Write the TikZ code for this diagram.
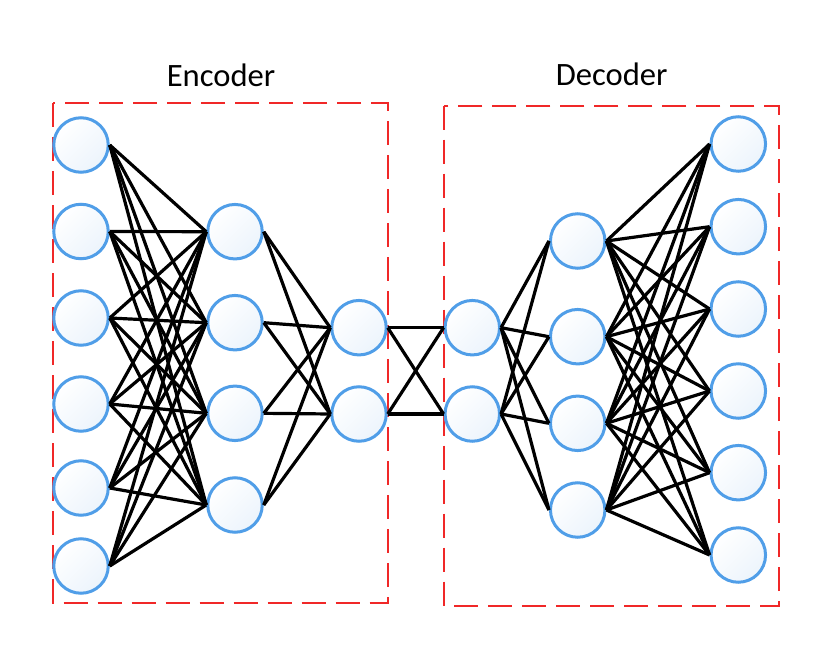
\documentclass[tikz,border=0pt]{standalone}
\usepackage{fontspec}
\setmainfont{Carlito}
\definecolor{nodeblue}{RGB}{80,158,232}
\definecolor{fillblue}{RGB}{236,244,252}
\definecolor{boxred}{RGB}{240,40,40}
\tikzset{
  neuron/.style={circle, draw=nodeblue, line width=3pt, minimum size=54.5pt, inner sep=0pt,
    shading=axis, top color=white, bottom color=fillblue, shading angle=45},
  link/.style={black, line width=3.2pt},
  groupbox/.style={draw=boxred, line width=2pt, dash pattern=on 24pt off 10pt},
  title/.style={font=\fontsize{32.6pt}{36pt}\selectfont, anchor=base, inner sep=0pt}
}
\begin{document}
\begin{tikzpicture}[x=1pt,y=-1pt]
\useasboundingbox (0,0) rectangle (830,658);
% boxes
\draw[groupbox] (52.7,103.3) rectangle (387.7,602.5);
\draw[groupbox] (444.3,105.7) rectangle (779,606);
\node[title] (enc) at (221,86.5) {Encoder};
\node[title] (dec) at (611.7,86) {Decoder};
% encoder layer 1
\foreach \i/\y in {1/145,2/231.5,3/318,4/404,5/488,6/566}
  \node[neuron] (a\i) at (81,\y) {};
% encoder layer 2
\foreach \i/\y in {1/231.7,2/322.7,3/413.3,4/505}
  \node[neuron] (b\i) at (235,\y) {};
% encoder layer 3
\foreach \i/\y in {1/327.7,2/414}
  \node[neuron] (c\i) at (359,\y) {};
% decoder layer 1
\foreach \i/\y in {1/327.7,2/414}
  \node[neuron] (d\i) at (472.3,\y) {};
% decoder layer 2
\foreach \i/\y in {1/241,2/336.7,3/423.3,4/510}
  \node[neuron] (e\i) at (577.7,\y) {};
% decoder layer 3
\foreach \i/\y in {1/144,2/226.7,3/309,4/391,5/472.7,6/555}
  \node[neuron] (f\i) at (738.3,\y) {};
% links
\foreach \i in {1,...,6}
  \foreach \j in {1,...,4}
    \draw[link] (a\i.east) -- (b\j.west);
\foreach \i in {1,...,4}
  \foreach \j in {1,2}
    \draw[link] (b\i.east) -- (c\j.west);
\foreach \i in {1,2}
  \foreach \j in {1,2}
    \draw[link] (c\i.east) -- (d\j.west);
\foreach \i in {1,2}
  \foreach \j in {1,...,4}
    \draw[link] (d\i.east) -- (e\j.west);
\foreach \i in {1,...,4}
  \foreach \j in {1,...,6}
    \draw[link] (e\i.east) -- (f\j.west);
\end{tikzpicture}
\end{document}
